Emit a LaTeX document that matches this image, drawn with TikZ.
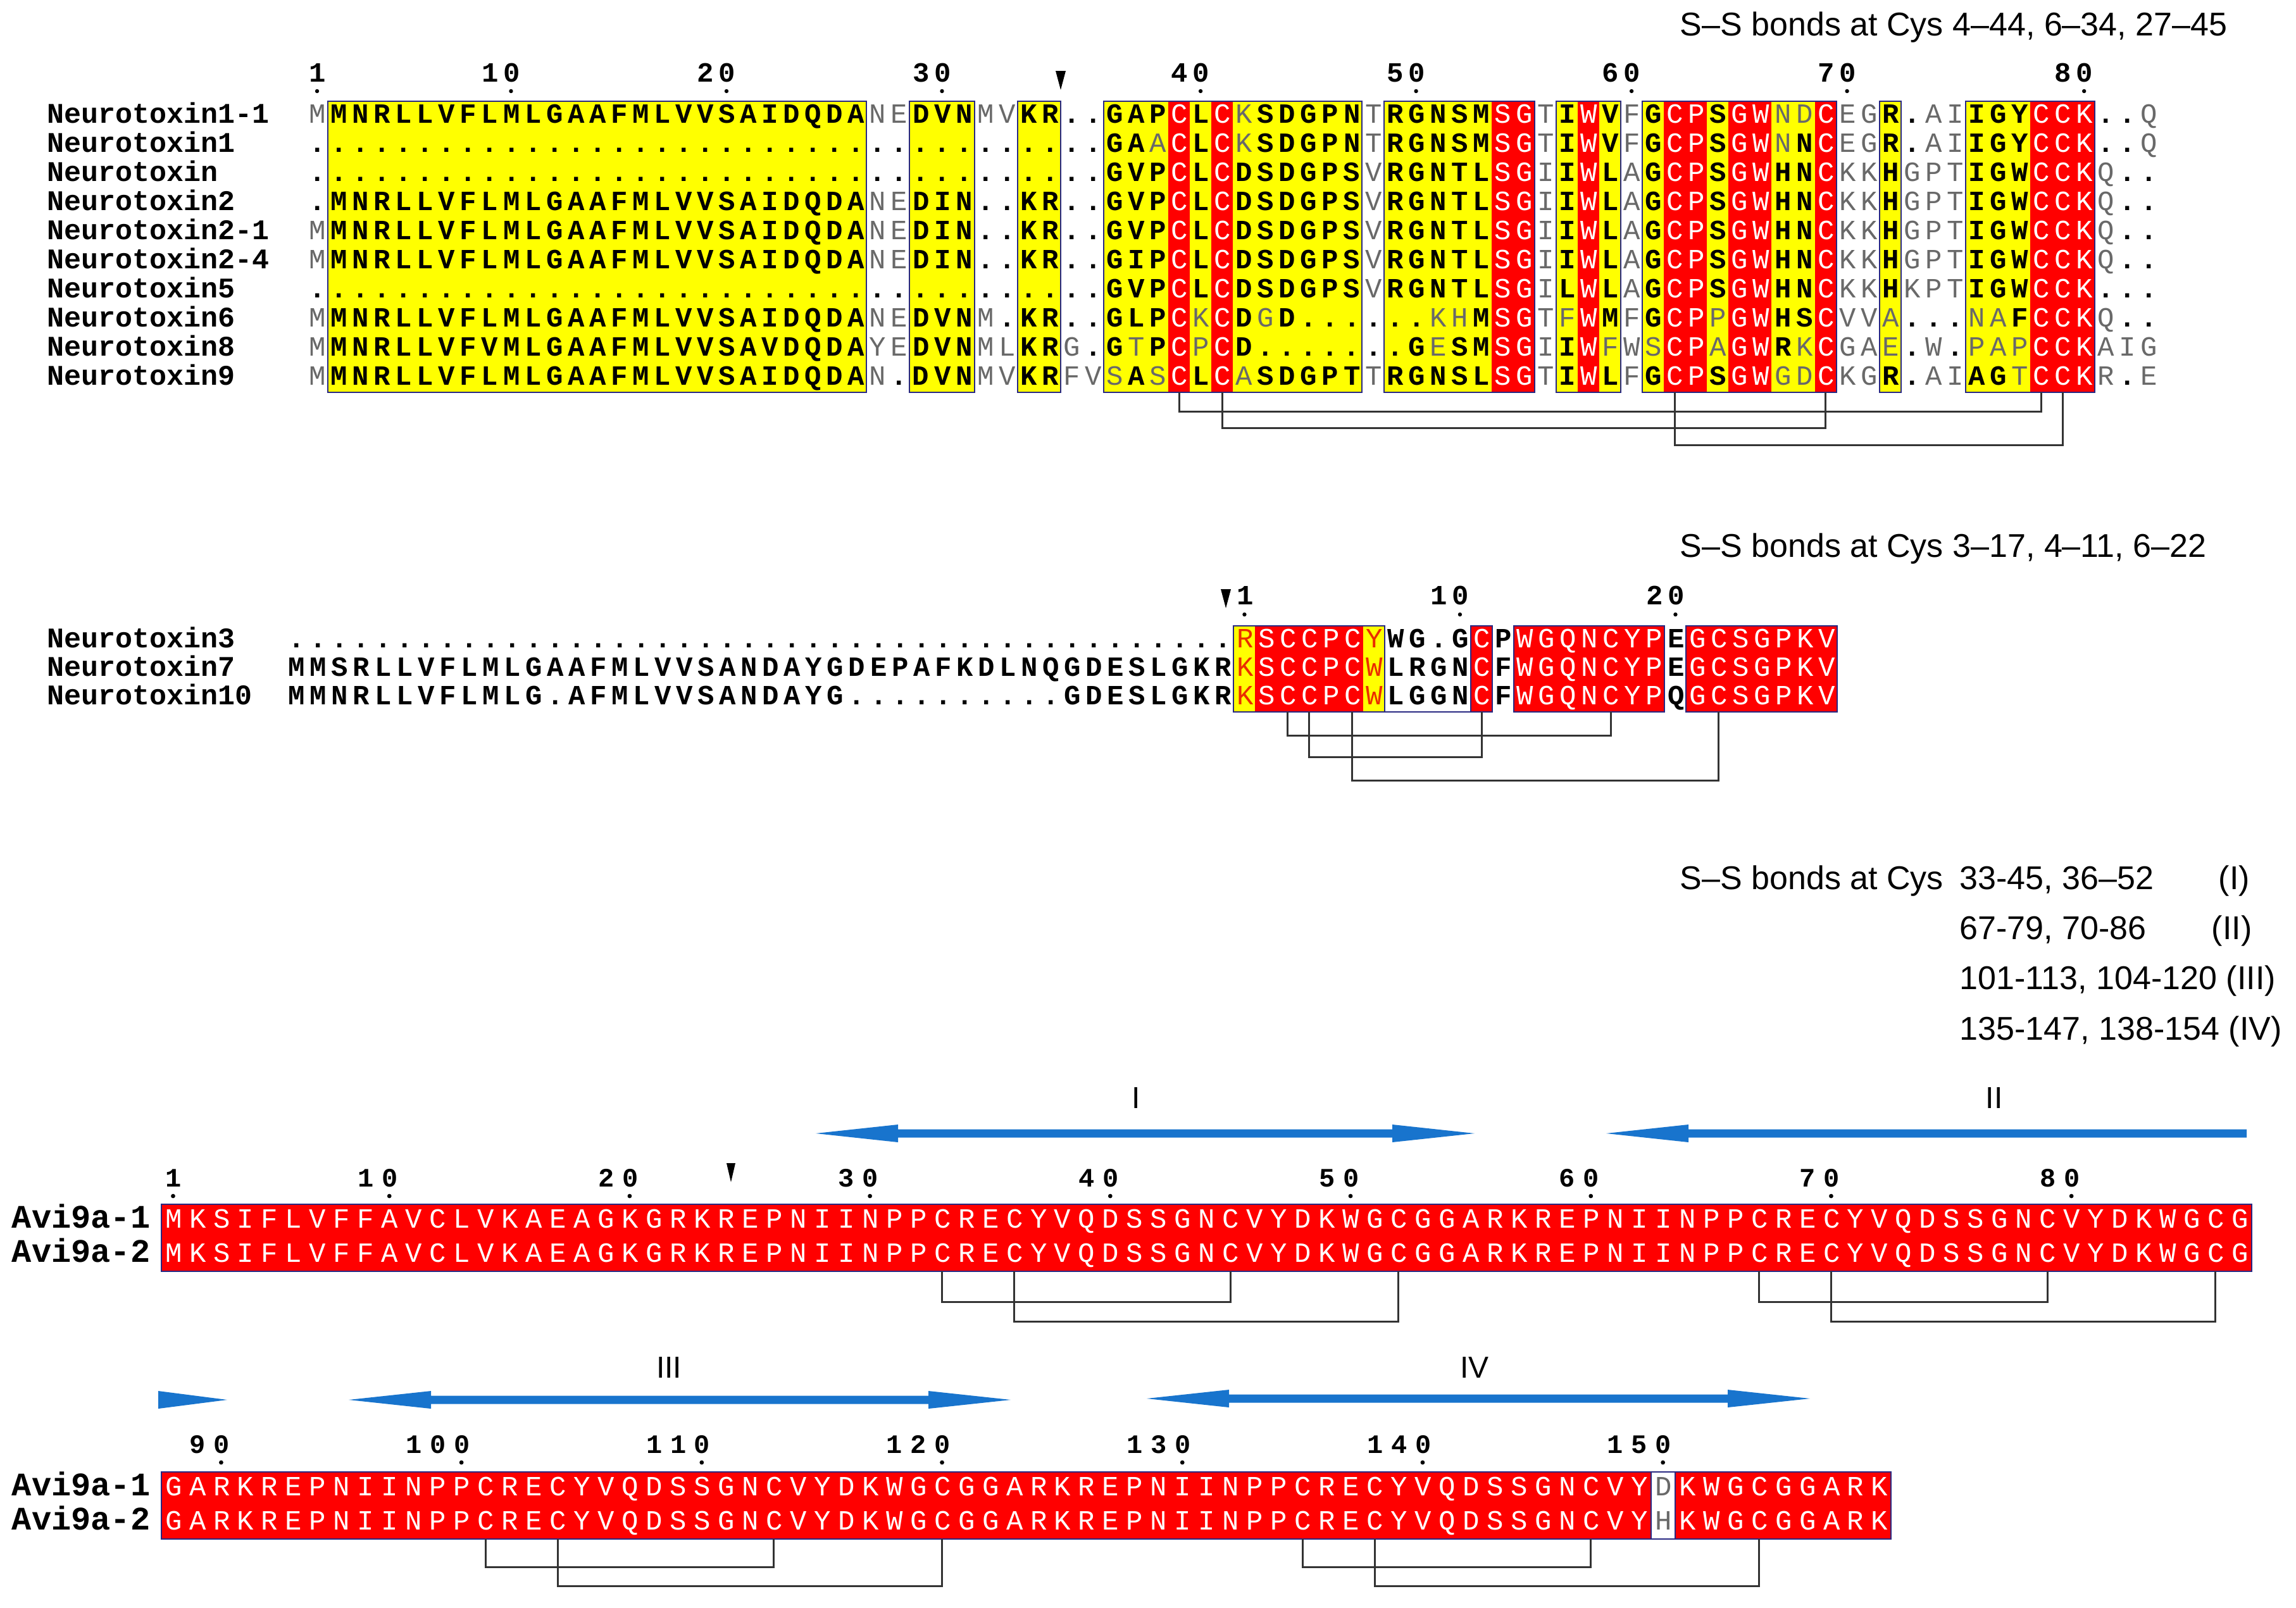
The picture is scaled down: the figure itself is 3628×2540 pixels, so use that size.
\documentclass[tikz,border=0pt]{standalone}
\usepackage{fontspec}
\setmainfont{Liberation Sans}
\newfontfamily\seqfont{Liberation Mono}

\definecolor{espred}{RGB}{255,0,0}
\definecolor{espyellow}{RGB}{255,255,0}
\definecolor{espframe}{RGB}{40,40,130}
\definecolor{thingray}{RGB}{105,105,105}
\definecolor{redletter}{RGB}{235,45,0}
\definecolor{strandblue}{RGB}{24,116,205}

% one residue per column: | toggles white (red column), ! toggles red letter,
% lower case = thin gray, _ = empty column
\newif\ifwm
\newif\ifrm
\newlength\cw
\makeatletter
\def\seqstr#1{\wmfalse\rmfalse\seq@loop#1\relax}
\def\seq@loop#1{\ifx\relax#1\expandafter\seq@stop\fi\seq@do{#1}\seq@loop}
\def\seq@stop#1\seq@loop{}
\def\seq@do#1{%
  \ifx|#1\ifwm\wmfalse\else\wmtrue\fi
  \else\ifx!#1\ifrm\rmfalse\else\rmtrue\fi
  \else\ifx_#1\hbox to\cw{}%
  \else\seq@char{#1}\fi\fi\fi}
\def\seq@char#1{\makebox[\cw]{%
  \ifwm\color{white}#1%
  \else\ifrm\color{redletter}#1%
  \else\ifnum`#1>96 \color{thingray}\uppercase{#1}%
  \else\bfseries #1\fi\fi\fi}}
\makeatother

\newcommand{\strandboth}[3]{%
  \fill[strandblue] (#1,#3) -- ({#1+130},{#3-14}) -- ({#1+130},{#3-6.5}) -- ({#2-130},{#3-6.5})
    -- ({#2-130},{#3-14}) -- (#2,#3) -- ({#2-130},{#3+14}) -- ({#2-130},{#3+6.5})
    -- ({#1+130},{#3+6.5}) -- ({#1+130},{#3+14}) -- cycle;}
\newcommand{\strandleft}[3]{%
  \fill[strandblue] (#1,#3) -- ({#1+130},{#3-14}) -- ({#1+130},{#3-6.5}) -- (#2,{#3-6.5})
    -- (#2,{#3+6.5}) -- ({#1+130},{#3+6.5}) -- ({#1+130},{#3+14}) -- cycle;}
\newcommand{\strandtip}[3]{%
  \fill[strandblue] (#1,{#3-14}) -- (#2,#3) -- (#1,{#3+14}) -- cycle;}

\tikzset{
  seqlabel/.style={anchor=west, inner sep=0pt, text height=0.62em, text depth=0.05em,
    font=\seqfont\bfseries\fontsize{11.25}{13}\selectfont},
  avilabel/.style={anchor=west, inner sep=0pt, text height=0.62em, text depth=0.05em,
    font=\seqfont\bfseries\fontsize{13}{15}\selectfont},
  toprow/.style={anchor=west, inner sep=0pt, text height=0.62em, text depth=0.05em,
    font=\seqfont\fontsize{11}{12}\selectfont,
    execute at begin node={\setlength{\cw}{8.5125pt}}},
  avirow/.style={anchor=west, inner sep=0pt, text height=0.62em, text depth=0.05em,
    font=\seqfont\fontsize{11}{12}\selectfont,
    execute at begin node={\setlength{\cw}{9.4925pt}}},
  aviruler/.style={avirow, font=\seqfont\fontsize{10.5}{12}\selectfont},
  sstext/.style={anchor=west, inner sep=0pt, text height=0.72em, text depth=0.2em,
    font=\fontsize{13}{15}\selectfont},
  romanlab/.style={inner sep=0pt, font=\fontsize{12}{14}\selectfont},
  bond/.style={draw=black!80, line width=0.75pt},
  boxline/.style={draw=espframe, line width=0.5pt},
  tick/.style={fill=black},
}

\begin{document}
\begin{tikzpicture}[x=0.25pt, y=-0.25pt]
\useasboundingbox (0,0) rectangle (3628,2540);
\fill[white] (0,0) rectangle (3628,2540);

% ---- Neurotoxin block 1
\foreach \a/\b in {2/26,29/31,34/35,38/40,42/42,44/49,51/55,59/59,61/61,63/63,66/66,69/70,74/74,78/80}
  \fill[espyellow] ({484+(\a-1)*34.05},160) rectangle ({484+\b*34.05},620);
\foreach \a/\b in {41/41,43/43,56/57,60/60,64/65,67/68,71/71,81/83}
  \fill[espred] ({484+(\a-1)*34.05},160) rectangle ({484+\b*34.05},620);
\foreach \a/\b in {2/26,29/31,34/35,38/49,51/57,59/61,63/71,74/74,78/83}
  \draw[boxline] ({484+(\a-1)*34.05},160) rectangle ({484+\b*34.05},620);

\node[sstext] (ssa) at (2654,46) {S–S bonds at Cys 4–44, 6–34, 27–45};
\node[toprow] (rula) at (484,118) {\seqstr{1_______10________20________30__________40________50________60________70_________80}};
\foreach \c in {1,10,20,30,42,52,62,72,83}
  \fill[tick] ({484+(\c-0.5)*34.05},144) circle (3.2);
\fill (1668,112) -- (1684,112) -- (1676,142) -- cycle;

\node[seqlabel] (n1) at (74,183) {Neurotoxin1-1};
\node[seqlabel] (n2) at (74,229) {Neurotoxin1};
\node[seqlabel] (n3) at (74,275) {Neurotoxin};
\node[seqlabel] (n4) at (74,321) {Neurotoxin2};
\node[seqlabel] (n5) at (74,367) {Neurotoxin2-1};
\node[seqlabel] (n6) at (74,413) {Neurotoxin2-4};
\node[seqlabel] (n7) at (74,459) {Neurotoxin5};
\node[seqlabel] (n8) at (74,505) {Neurotoxin6};
\node[seqlabel] (n9) at (74,551) {Neurotoxin8};
\node[seqlabel] (n10) at (74,597) {Neurotoxin9};

\node[toprow] (s1) at (484,183) {\seqstr{mMNRLLVFLMLGAAFMLVVSAIDQDAneDVNmvKR..GAP|C|L|C|kSDGPNtRGNSM|SG|tI|W|VfG|CP|S|GW|nd|C|egR.aiIGY|CCK|..q}};
\node[toprow] (s2) at (484,229) {\seqstr{.....................................GAa|C|L|C|kSDGPNtRGNSM|SG|tI|W|VfG|CP|S|GW|nN|C|egR.aiIGY|CCK|..q}};
\node[toprow] (s3) at (484,275) {\seqstr{.....................................GVP|C|L|C|DSDGPSvRGNTL|SG|iI|W|LaG|CP|S|GW|HN|C|kkHgptIGW|CCK|q..}};
\node[toprow] (s4) at (484,321) {\seqstr{.MNRLLVFLMLGAAFMLVVSAIDQDAneDIN..KR..GVP|C|L|C|DSDGPSvRGNTL|SG|iI|W|LaG|CP|S|GW|HN|C|kkHgptIGW|CCK|q..}};
\node[toprow] (s5) at (484,367) {\seqstr{mMNRLLVFLMLGAAFMLVVSAIDQDAneDIN..KR..GVP|C|L|C|DSDGPSvRGNTL|SG|iI|W|LaG|CP|S|GW|HN|C|kkHgptIGW|CCK|q..}};
\node[toprow] (s6) at (484,413) {\seqstr{mMNRLLVFLMLGAAFMLVVSAIDQDAneDIN..KR..GIP|C|L|C|DSDGPSvRGNTL|SG|iI|W|LaG|CP|S|GW|HN|C|kkHgptIGW|CCK|q..}};
\node[toprow] (s7) at (484,459) {\seqstr{.....................................GVP|C|L|C|DSDGPSvRGNTL|SG|iL|W|LaG|CP|S|GW|HN|C|kkHkptIGW|CCK|...}};
\node[toprow] (s8) at (484,505) {\seqstr{mMNRLLVFLMLGAAFMLVVSAIDQDAneDVNm.KR..GLP|C|k|C|DgD......khM|SG|tf|W|MfG|CP|p|GW|HS|C|vva...naF|CCK|q..}};
\node[toprow] (s9) at (484,551) {\seqstr{mMNRLLVFVMLGAAFMLVVSAVDQDAyeDVNmlKRg.GtP|C|p|C|D.......GeSM|SG|iI|W|fws|CP|a|GW|Rk|C|gae.w.pap|CCK|aig}};
\node[toprow] (s10) at (484,597) {\seqstr{mMNRLLVFLMLGAAFMLVVSAIDQDAn.DVNmvKRfvsAs|C|L|C|aSDGPTtRGNSL|SG|tI|W|LfG|CP|S|GW|gd|C|kgR.aiAGt|CCK|r.e}};

\foreach \c in {41,43,64,71,81,82} \coordinate (tb\c) at ({484+(\c-0.5)*34.05},620);
\draw[bond] (tb41) -- ++(0,30) -| (tb81);
\draw[bond] (tb43) -- ++(0,56) -| (tb71);
\draw[bond] (tb64) -- ++(0,83) -| (tb82);

% ---- Neurotoxin block 2
\foreach \a/\b in {45/45,51/51}
  \fill[espyellow] ({451.2+(\a-1)*34.05},989) rectangle ({451.2+\b*34.05},1125);
\foreach \a/\b in {46/50,56/56,58/64,66/72}
  \fill[espred] ({451.2+(\a-1)*34.05},989) rectangle ({451.2+\b*34.05},1125);
\foreach \a/\b in {45/51,56/56,58/64,66/72}
  \draw[boxline] ({451.2+(\a-1)*34.05},989) rectangle ({451.2+\b*34.05},1125);
\draw[boxline] ({451.2+51*34.05},1125) -- ({451.2+55*34.05},1125);

\node[sstext] (ssb) at (2654,870) {S–S bonds at Cys 3–17, 4–11, 6–22};
\node[toprow] (rulb) at (1949.4,944) {\seqstr{1________10________20}};
\foreach \c in {45,55,65}
  \fill[tick] ({451.2+(\c-0.5)*34.05},971) circle (3.2);
\fill (1929,931) -- (1945,931) -- (1937,961) -- cycle;

\node[seqlabel] (n11) at (74,1012) {Neurotoxin3};
\node[seqlabel] (n12) at (74,1057) {Neurotoxin7};
\node[seqlabel] (n13) at (74,1102) {Neurotoxin10};
\node[toprow] (s11) at (451.2,1012) {\seqstr{............................................!R!|SCCPC|!Y!WG.G|C|P|WGQNCYP|E|GCSGPKV|}};
\node[toprow] (s12) at (451.2,1057) {\seqstr{MMSRLLVFLMLGAAFMLVVSANDAYGDEPAFKDLNQGDESLGKR!K!|SCCPC|!W!LRGN|C|F|WGQNCYP|E|GCSGPKV|}};
\node[toprow] (s13) at (451.2,1102) {\seqstr{MMNRLLVFLMLG.AFMLVVSANDAYG..........GDESLGKR!K!|SCCPC|!W!LGGN|C|F|WGQNCYP|Q|GCSGPKV|}};

\foreach \c in {47,48,50,56,62,67} \coordinate (mb\c) at ({451.2+(\c-0.5)*34.05},1125);
\draw[bond] (mb47) -- ++(0,37) -| (mb62);
\draw[bond] (mb48) -- ++(0,71) -| (mb56);
\draw[bond] (mb50) -- ++(0,108) -| (mb67);

% ---- Avi9a
\node[sstext] (ssc) at (2654,1395) {S–S bonds at Cys};
\node[sstext] (ssc1) at (3096,1395) {33-45, 36–52};
\node[sstext] (ssc1r) at (3505,1395) {(I)};
\node[sstext] (ssc2) at (3096,1474) {67-79, 70-86};
\node[sstext] (ssc2r) at (3494,1474) {(II)};
\node[sstext] (ssc3) at (3096,1553) {101-113, 104-120 (III)};
\node[sstext] (ssc4) at (3096,1633) {135-147, 138-154 (IV)};

\node[romanlab] (lI) at (1795,1735) {I};
\node[romanlab] (lII) at (3151,1735) {II};
\strandboth{1289}{2330}{1791}
\strandleft{2538}{3550}{1791}

\fill[espred] (254.5,1903) rectangle (3558,2009);
\draw[boxline] (254.5,1903) rectangle (3558,2009);
\node[aviruler] (rulc) at (254.5,1864) {\seqstr{1_______10________20________30________40________50________60________70________80}};
\foreach \c in {1,10,20,30,40,50,60,70,80}
  \fill[tick] ({254.5+(\c-0.5)*37.97},1890) circle (3.4);
\fill (1148,1838) -- (1162,1838) -- (1155,1868) -- cycle;
\node[avilabel] (a1) at (18,1929) {Avi9a-1};
\node[avilabel] (a2) at (18,1983) {Avi9a-2};
\node[avirow] (v1) at (254.5,1929) {\seqstr{|MKSIFLVFFAVCLVKAEAGKGRKREPNIINPPCRECYVQDSSGNCVYDKWGCGGARKREPNIINPPCRECYVQDSSGNCVYDKWGCG|}};
\node[avirow] (v2) at (254.5,1983) {\seqstr{|MKSIFLVFFAVCLVKAEAGKGRKREPNIINPPCRECYVQDSSGNCVYDKWGCGGARKREPNIINPPCRECYVQDSSGNCVYDKWGCG|}};

\foreach \c in {33,36,45,52,67,70,79,86} \coordinate (ab\c) at ({254.5+(\c-0.5)*37.97},2009);
\draw[bond] (ab33) -- ++(0,48) -| (ab45);
\draw[bond] (ab36) -- ++(0,79) -| (ab52);
\draw[bond] (ab67) -- ++(0,48) -| (ab79);
\draw[bond] (ab70) -- ++(0,79) -| (ab86);

\node[romanlab] (lIII) at (1057,2161) {III};
\node[romanlab] (lIV) at (2330,2161) {IV};
\strandtip{250}{359}{2212}
\strandboth{551}{1597}{2212}
\strandboth{1812}{2860}{2210}

\fill[espred] (254.5,2326) rectangle ({254.5+62*37.97},2432);
\fill[espred] ({254.5+63*37.97},2326) rectangle ({254.5+72*37.97},2432);
\draw[boxline] (254.5,2326) rectangle ({254.5+72*37.97},2432);
\draw[boxline] ({254.5+62*37.97},2326) -- ({254.5+62*37.97},2432);
\draw[boxline] ({254.5+63*37.97},2326) -- ({254.5+63*37.97},2432);
\node[aviruler] (ruld) at ({254.5+37.97},2285) {\seqstr{90_______100_______110_______120_______130_______140_______150}};
\foreach \c in {3,13,23,33,43,53,63}
  \fill[tick] ({254.5+(\c-0.5)*37.97},2311) circle (3.4);
\node[avilabel] (a3) at (18,2352) {Avi9a-1};
\node[avilabel] (a4) at (18,2406) {Avi9a-2};
\node[avirow] (v3) at (254.5,2352) {\seqstr{|GARKREPNIINPPCRECYVQDSSGNCVYDKWGCGGARKREPNIINPPCRECYVQDSSGNCVY|d|KWGCGGARK|}};
\node[avirow] (v4) at (254.5,2406) {\seqstr{|GARKREPNIINPPCRECYVQDSSGNCVYDKWGCGGARKREPNIINPPCRECYVQDSSGNCVY|h|KWGCGGARK|}};

\foreach \c in {14,17,26,33,48,51,60,67} \coordinate (cb\c) at ({254.5+(\c-0.5)*37.97},2432);
\draw[bond] (cb14) -- ++(0,44) -| (cb26);
\draw[bond] (cb17) -- ++(0,74) -| (cb33);
\draw[bond] (cb48) -- ++(0,44) -| (cb60);
\draw[bond] (cb51) -- ++(0,74) -| (cb67);
\end{tikzpicture}
\end{document}
